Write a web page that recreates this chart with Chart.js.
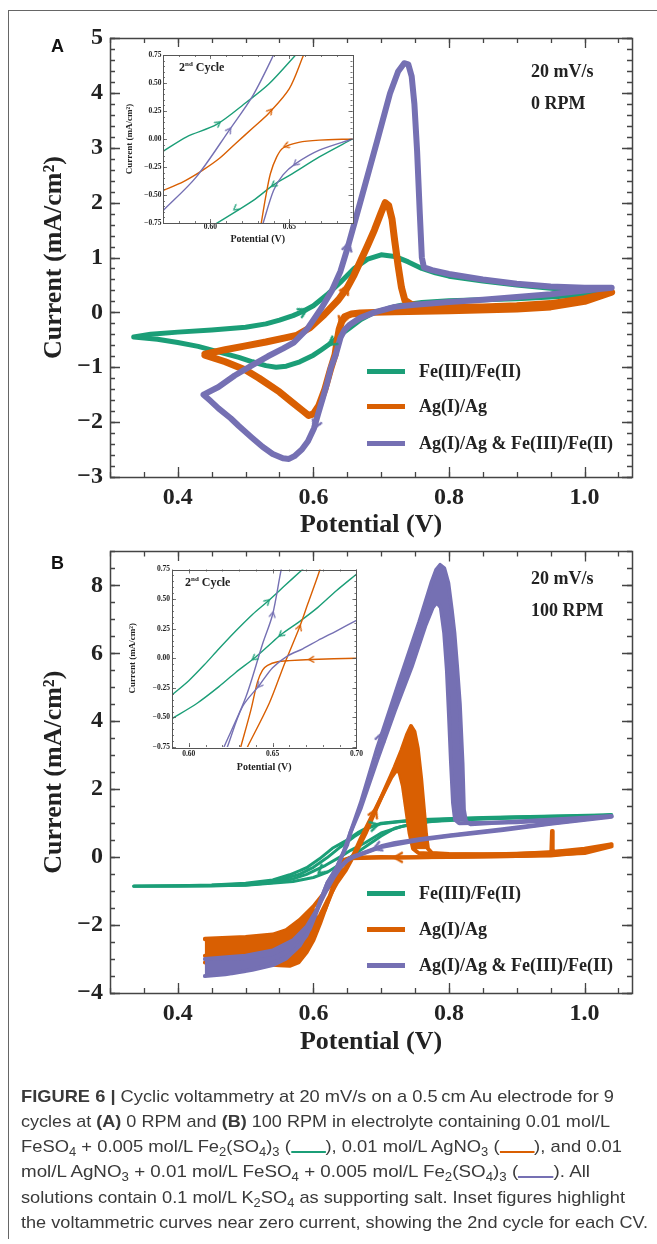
<!DOCTYPE html>
<html><head><meta charset="utf-8">
<script src="https://cdn.jsdelivr.net/npm/chart.js@4.4.0/dist/chart.umd.min.js"></script>
<style>
html,body{margin:0;padding:0;background:#fff;}
body{width:657px;height:1244px;position:relative;overflow:hidden;font-family:"Liberation Serif",serif;color:#222;}
canvas{position:absolute;display:block;}
.frame{position:absolute;left:8px;top:10px;width:660px;height:1228px;border-top:1.5px solid #666;border-left:1.5px solid #666;}
.t{position:absolute;white-space:nowrap;font-family:"Liberation Serif",serif;font-weight:bold;color:#222;}
.panel{position:absolute;font-family:"Liberation Sans",Arial,sans-serif;font-weight:bold;font-size:18px;line-height:20px;color:#111;}
.leg{position:absolute;height:22px;line-height:22px;font-family:"Liberation Serif",serif;font-weight:bold;font-size:18px;color:#222;white-space:nowrap;}
.leg i{position:absolute;left:0;top:9px;width:38px;height:5px;}
.leg span{position:absolute;left:52px;top:0;}
.cyc{position:absolute;font-family:"Liberation Serif",serif;font-weight:bold;font-size:12px;color:#222;white-space:nowrap;}
.cyc sup{font-size:7px;vertical-align:5px;}
.cap{position:absolute;left:21px;font-family:"Liberation Sans",Arial,sans-serif;font-size:17px;color:#3a3a3a;white-space:nowrap;transform-origin:0 0;line-height:24px;height:24px;}
.cap sub{font-size:12px;vertical-align:-4px;line-height:0;}
.cap .sw{display:inline-block;width:32px;height:2.5px;vertical-align:-1px;}
</style>
</head><body>
<div class="frame"></div>
<canvas id="cA" width="657" height="560" style="left:0;top:0"></canvas>
<canvas id="cB" width="657" height="545" style="left:0;top:530px"></canvas>
<canvas id="iA" width="238" height="200" style="left:120px;top:47px"></canvas>
<canvas id="iB" width="246" height="215" style="left:120px;top:561px"></canvas>

<div class="panel" style="left:51px;top:36px">A</div>
<div class="panel" style="left:51px;top:553px">B</div>

<div class="t" style="left:531px;top:61px;font-size:18px">20 mV/s</div>
<div class="t" style="left:531px;top:93px;font-size:18px">0 RPM</div>
<div class="t" style="left:531px;top:568px;font-size:18px">20 mV/s</div>
<div class="t" style="left:531px;top:600px;font-size:18px">100 RPM</div>

<div class="cyc" style="left:179px;top:60px">2<sup>nd</sup> Cycle</div>
<div class="cyc" style="left:185px;top:575px">2<sup>nd</sup> Cycle</div>

<div class="leg" style="left:367px;top:360px"><i style="background:#1b9e77"></i><span>Fe(III)/Fe(II)</span></div>
<div class="leg" style="left:367px;top:395px"><i style="background:#d95f02"></i><span>Ag(I)/Ag</span></div>
<div class="leg" style="left:367px;top:432px"><i style="background:#7570b3"></i><span>Ag(I)/Ag &amp; Fe(III)/Fe(II)</span></div>
<div class="leg" style="left:367px;top:882px"><i style="background:#1b9e77"></i><span>Fe(III)/Fe(II)</span></div>
<div class="leg" style="left:367px;top:918px"><i style="background:#d95f02"></i><span>Ag(I)/Ag</span></div>
<div class="leg" style="left:367px;top:954px"><i style="background:#7570b3"></i><span>Ag(I)/Ag &amp; Fe(III)/Fe(II)</span></div>

<div class="cap" style="top:1085px"><b>FIGURE 6 |</b> Cyclic voltammetry at 20 mV/s on a 0.5&#8201;cm Au electrode for 9</div>
<div class="cap" style="top:1110px">cycles at <b>(A)</b> 0 RPM and <b>(B)</b> 100 RPM in electrolyte containing 0.01 mol/L</div>
<div class="cap" style="top:1135px">FeSO<sub>4</sub> + 0.005 mol/L Fe<sub>2</sub>(SO<sub>4</sub>)<sub>3</sub> (<span class="sw" style="background:#1b9e77"></span>), 0.01 mol/L AgNO<sub>3</sub> (<span class="sw" style="background:#d95f02"></span>), and 0.01</div>
<div class="cap" style="top:1160px">mol/L AgNO<sub>3</sub> + 0.01 mol/L FeSO<sub>4</sub> + 0.005 mol/L Fe<sub>2</sub>(SO<sub>4</sub>)<sub>3</sub> (<span class="sw" style="background:#7570b3"></span>). All</div>
<div class="cap" style="top:1186px">solutions contain 0.1 mol/L K<sub>2</sub>SO<sub>4</sub> as supporting salt. Inset figures highlight</div>
<div class="cap" style="top:1211px">the voltammetric curves near zero current, showing the 2nd cycle for each CV.</div>

<script>
// ---------------- colours ----------------
const C_FE = '#1b9e77', C_AG = '#d95f02', C_MIX = '#7570b3';

// ---------------- tick labels ----------------
const xTicksMain = [0.4, 0.6, 0.8, 1.0];
const yTicksA = [-3, -2, -1, 0, 1, 2, 3, 4, 5];
const yTicksB = [-4, -2, 0, 2, 4, 6, 8];
const yTicksInset = [-0.75, -0.5, -0.25, 0, 0.25, 0.5, 0.75];
const xTicksInsetA = [0.60, 0.65];
const xTicksInsetB = [0.60, 0.65, 0.70];

// ---------------- Panel A (0 RPM) : [potential V, current mA/cm2] ----------------
const aFeFwd = [[0.335,-0.45],[0.36,-0.40],[0.40,-0.36],[0.45,-0.32],[0.50,-0.27],[0.53,-0.21],[0.55,-0.14],[0.57,-0.06],[0.585,0.02],[0.60,0.12],[0.62,0.32],[0.64,0.55],[0.66,0.8],[0.68,0.97],[0.70,1.05],[0.72,1.02],[0.74,0.92],[0.76,0.8],[0.78,0.72],[0.80,0.66],[0.85,0.57],[0.90,0.5],[0.95,0.44],[1.00,0.4],[1.035,0.38]];
const aFeRev = [[1.035,0.38],[1.0,0.32],[0.95,0.28],[0.9,0.25],[0.85,0.23],[0.8,0.21],[0.76,0.18],[0.73,0.13],[0.71,0.07],[0.69,0.0],[0.67,-0.13],[0.655,-0.27],[0.64,-0.41],[0.627,-0.55],[0.612,-0.68],[0.6,-0.78],[0.58,-0.9],[0.56,-0.98],[0.545,-1.0],[0.53,-0.97],[0.51,-0.9],[0.49,-0.82],[0.46,-0.72],[0.43,-0.62],[0.4,-0.55],[0.37,-0.49],[0.335,-0.45]];
const aAgFwd = [[0.44,-0.76],[0.47,-0.68],[0.50,-0.61],[0.53,-0.54],[0.56,-0.46],[0.575,-0.42],[0.595,-0.28],[0.616,-0.04],[0.637,0.23],[0.65,0.45],[0.66,0.68],[0.67,0.95],[0.68,1.22],[0.69,1.5],[0.70,1.82],[0.706,2.0],[0.711,1.95],[0.716,1.7],[0.72,1.3],[0.725,0.85],[0.73,0.45],[0.735,0.22],[0.745,0.14],[0.78,0.1],[0.85,0.1],[0.9,0.12],[0.95,0.16],[1.0,0.25],[1.04,0.37]];
const aAgRev = [[1.04,0.37],[1.0,0.2],[0.95,0.1],[0.9,0.06],[0.8,0.03],[0.72,0.01],[0.69,0.0],[0.669,-0.01],[0.656,-0.03],[0.646,-0.08],[0.642,-0.16],[0.638,-0.31],[0.635,-0.52],[0.632,-0.77],[0.625,-1.05],[0.617,-1.4],[0.608,-1.7],[0.6,-1.85],[0.593,-1.88],[0.585,-1.8],[0.57,-1.65],[0.55,-1.45],[0.52,-1.2],[0.5,-1.05],[0.47,-0.9],[0.44,-0.78]];
const aMixFwd = [[0.438,-1.5],[0.46,-1.36],[0.484,-1.15],[0.51,-0.96],[0.533,-0.8],[0.555,-0.66],[0.571,-0.55],[0.591,-0.3],[0.612,0.08],[0.627,0.39],[0.64,0.75],[0.651,1.2],[0.669,2.0],[0.694,3.12],[0.713,3.99],[0.725,4.39],[0.734,4.54],[0.74,4.52],[0.745,4.3],[0.749,3.8],[0.753,2.94],[0.757,1.8],[0.76,1.0],[0.763,0.82],[0.775,0.77],[0.8,0.7],[0.85,0.6],[0.9,0.52],[0.95,0.47],[1.0,0.45],[1.04,0.45]];
const aMixRev = [[1.04,0.45],[1.0,0.4],[0.95,0.33],[0.9,0.28],[0.85,0.23],[0.8,0.19],[0.75,0.14],[0.72,0.1],[0.69,0.0],[0.669,-0.1],[0.654,-0.22],[0.646,-0.32],[0.64,-0.46],[0.633,-0.77],[0.626,-1.0],[0.62,-1.3],[0.614,-1.56],[0.607,-1.85],[0.601,-2.11],[0.592,-2.35],[0.583,-2.5],[0.572,-2.62],[0.564,-2.67],[0.555,-2.66],[0.54,-2.58],[0.525,-2.45],[0.509,-2.28],[0.49,-2.07],[0.478,-1.93],[0.46,-1.75],[0.447,-1.6],[0.438,-1.5]];
// arrows A: [x, y, x ahead, y ahead]
const aFeArrows = [[0.585,0.02,0.60,0.12],[0.627,-0.55,0.612,-0.68]];
const aAgArrows = [[0.648,0.42,0.66,0.68],[0.642,-0.16,0.638,-0.31]];
const aMixArrows = [[0.651,1.2,0.669,2.0],[0.603,-2.05,0.592,-2.35]];

// ---------------- Inset A (2nd cycle) ----------------
const iaFe = [[0.570,-0.11],[0.585,0.02],[0.604,0.13],[0.623,0.33],[0.637,0.49],[0.654,0.75],[0.66,0.85]];
const iaFeRev = [[0.69,0.0],[0.669,-0.16],[0.652,-0.31],[0.64,-0.41],[0.627,-0.55],[0.602,-0.77]];
const iaAg = [[0.570,-0.46],[0.583,-0.38],[0.595,-0.28],[0.606,-0.17],[0.616,-0.04],[0.627,0.1],[0.637,0.23],[0.65,0.45],[0.659,0.75],[0.662,0.85]];
const iaAgRev = [[0.69,0.0],[0.669,-0.01],[0.656,-0.03],[0.646,-0.08],[0.642,-0.16],[0.638,-0.31],[0.635,-0.52],[0.632,-0.77]];
const iaMix = [[0.570,-0.64],[0.591,-0.34],[0.612,0.08],[0.627,0.39],[0.64,0.75],[0.643,0.85]];
const iaMixRev = [[0.69,0.0],[0.669,-0.1],[0.654,-0.22],[0.646,-0.32],[0.64,-0.46],[0.633,-0.77]];
const iaArrows = {fe:[[0.605,0.14,0.623,0.33],[0.64,-0.41,0.627,-0.55],[0.616,-0.62,0.602,-0.77]], ag:[[0.638,0.25,0.65,0.45],[0.648,-0.06,0.64,-0.1]], mix:[[0.612,0.08,0.627,0.39],[0.654,-0.22,0.646,-0.32]]};

// ---------------- Panel B (100 RPM) ----------------
const bFeFwd1 = [[0.335,-0.85],[0.4,-0.84],[0.45,-0.82],[0.5,-0.77],[0.54,-0.67],[0.565,-0.52],[0.58,-0.4],[0.59,-0.31],[0.609,-0.05],[0.628,0.26],[0.647,0.47],[0.667,0.74],[0.68,0.88],[0.7,0.98],[0.73,1.05],[0.8,1.12],[0.9,1.18],[1.0,1.22],[1.04,1.24]];
const bFeRev1 = [[1.04,1.24],[0.95,1.18],[0.85,1.12],[0.77,1.05],[0.73,0.9],[0.7,0.71],[0.677,0.43],[0.655,0.2],[0.639,0.0],[0.618,-0.24],[0.59,-0.51],[0.57,-0.64],[0.55,-0.73],[0.5,-0.82],[0.45,-0.85],[0.4,-0.86],[0.335,-0.86]];
const bFeFwd9 = [[0.335,-0.86],[0.45,-0.83],[0.5,-0.79],[0.55,-0.68],[0.58,-0.5],[0.6,-0.3],[0.62,-0.02],[0.64,0.3],[0.66,0.6],[0.68,0.85],[0.7,1.0],[0.75,1.1],[0.85,1.17],[1.04,1.25]];
const bFeRev9 = [[1.04,1.25],[0.9,1.17],[0.8,1.1],[0.75,1.0],[0.72,0.85],[0.7,0.62],[0.68,0.35],[0.66,0.08],[0.64,-0.2],[0.62,-0.45],[0.6,-0.6],[0.57,-0.72],[0.5,-0.83],[0.335,-0.86]];
const bAgFwd9 = [[0.44,-2.9],[0.48,-2.88],[0.52,-2.83],[0.55,-2.72],[0.57,-2.55],[0.585,-2.35],[0.6,-2.05],[0.61,-1.7],[0.62,-1.3],[0.628,-1.0],[0.635,-0.75],[0.648,-0.38],[0.657,-0.05],[0.666,0.26],[0.671,0.46],[0.678,0.74],[0.69,1.3],[0.70,1.75],[0.71,2.2],[0.72,2.65],[0.73,3.15],[0.738,3.6],[0.744,3.86],[0.749,3.7],[0.754,3.2],[0.759,2.3],[0.763,1.4],[0.766,0.7],[0.769,0.25],[0.775,0.12],[0.8,0.09],[0.85,0.08],[0.9,0.1],[0.948,0.13],[0.951,0.14],[0.952,0.77],[0.953,0.15],[1.0,0.25],[1.04,0.38]];
const bAgRev9 = [[1.04,0.38],[1.0,0.14],[0.95,0.05],[0.9,0.03],[0.8,0.01],[0.73,-0.01],[0.7,0.0],[0.673,-0.01],[0.653,-0.03],[0.644,-0.09],[0.64,-0.22],[0.637,-0.44],[0.631,-0.75],[0.625,-1.1],[0.618,-1.5],[0.61,-1.95],[0.6,-2.45],[0.59,-2.8],[0.578,-3.1],[0.565,-3.2],[0.55,-3.18],[0.52,-3.14],[0.48,-3.12],[0.44,-3.1]];
const bAgFwd1 = [[0.44,-2.4],[0.5,-2.35],[0.54,-2.28],[0.56,-2.15],[0.58,-1.85],[0.6,-1.45],[0.62,-0.95],[0.635,-0.6],[0.648,-0.3],[0.657,-0.02],[0.67,0.55],[0.69,1.35],[0.705,1.95],[0.715,2.35],[0.722,2.55],[0.727,2.5],[0.732,2.1],[0.737,1.4],[0.742,0.7],[0.747,0.25],[0.755,0.12],[0.8,0.08],[0.9,0.09],[1.0,0.2],[1.04,0.32]];
const bAgRev1 = [[1.04,0.32],[1.0,0.12],[0.9,0.03],[0.8,0.0],[0.7,-0.01],[0.655,-0.03],[0.645,-0.1],[0.64,-0.3],[0.634,-0.7],[0.626,-1.1],[0.617,-1.55],[0.607,-1.9],[0.595,-2.2],[0.58,-2.38],[0.56,-2.45],[0.52,-2.46],[0.48,-2.45],[0.44,-2.42]];
const bAgPeakBand = [[0.71,2.2],[0.72,2.65],[0.73,3.15],[0.738,3.6],[0.744,3.86],[0.749,3.7],[0.754,3.2],[0.759,2.3],[0.763,1.4],[0.766,0.7],[0.769,0.25],[0.747,0.25],[0.742,0.7],[0.737,1.4],[0.732,2.1],[0.727,2.5],[0.722,2.55],[0.715,2.35]];
const bAgCathBand = [[0.44,-2.4],[0.5,-2.35],[0.54,-2.28],[0.56,-2.15],[0.58,-1.85],[0.6,-1.45],[0.61,-1.95],[0.6,-2.45],[0.59,-2.8],[0.578,-3.1],[0.565,-3.2],[0.55,-3.18],[0.52,-3.14],[0.48,-3.12],[0.44,-3.1]];
const bMixFwd9 = [[0.44,-3.5],[0.47,-3.45],[0.5,-3.35],[0.53,-3.2],[0.56,-2.95],[0.58,-2.6],[0.595,-2.1],[0.605,-1.6],[0.613,-1.15],[0.621,-0.75],[0.634,-0.33],[0.644,0.12],[0.65,0.37],[0.655,0.74],[0.67,1.6],[0.694,3.2],[0.725,5.07],[0.756,6.91],[0.774,8.07],[0.781,8.45],[0.787,8.6],[0.793,8.5],[0.799,8.07],[0.804,7.3],[0.808,6.6],[0.812,5.6],[0.816,4.5],[0.82,2.75],[0.822,1.4],[0.825,1.05],[0.832,0.97],[0.9,1.05],[1.0,1.16],[1.04,1.21]];
const bMixRev9 = [[1.04,1.21],[0.95,1.0],[0.879,0.82],[0.8,0.64],[0.756,0.53],[0.72,0.42],[0.7,0.32],[0.677,0.15],[0.659,0.02],[0.65,-0.08],[0.642,-0.23],[0.632,-0.41],[0.623,-0.75],[0.615,-1.1],[0.607,-1.5],[0.6,-1.85],[0.59,-2.3],[0.575,-2.7],[0.56,-2.98],[0.54,-3.18],[0.51,-3.32],[0.48,-3.42],[0.44,-3.5]];
const bMixFwd1 = [[0.44,-3.0],[0.5,-2.9],[0.54,-2.75],[0.57,-2.45],[0.59,-2.05],[0.605,-1.55],[0.621,-0.75],[0.634,-0.33],[0.644,0.12],[0.655,0.74],[0.67,1.45],[0.694,2.85],[0.72,4.3],[0.745,5.6],[0.765,6.8],[0.776,7.35],[0.782,7.5],[0.788,7.35],[0.793,6.6],[0.797,5.5],[0.8,4.2],[0.803,2.8],[0.806,1.6],[0.809,1.1],[0.815,1.0],[0.9,1.03],[1.0,1.14],[1.04,1.19]];
const bMixRev1 = [[1.04,1.19],[0.95,0.98],[0.88,0.8],[0.8,0.62],[0.756,0.5],[0.7,0.3],[0.677,0.13],[0.659,0.0],[0.65,-0.1],[0.64,-0.3],[0.63,-0.6],[0.62,-0.95],[0.61,-1.35],[0.6,-1.75],[0.585,-2.2],[0.565,-2.6],[0.54,-2.85],[0.5,-2.97],[0.44,-3.0]];
const bMixPeakBand = [[0.694,3.2],[0.725,5.07],[0.756,6.91],[0.774,8.07],[0.781,8.45],[0.787,8.6],[0.793,8.5],[0.799,8.07],[0.804,7.3],[0.808,6.6],[0.812,5.6],[0.816,4.5],[0.82,2.75],[0.822,1.4],[0.825,1.05],[0.809,1.1],[0.806,1.6],[0.803,2.8],[0.8,4.2],[0.797,5.5],[0.793,6.6],[0.788,7.35],[0.782,7.5],[0.776,7.35],[0.765,6.8],[0.745,5.6],[0.72,4.3],[0.694,2.85]];
const bMixCathBand = [[0.44,-3.0],[0.5,-2.9],[0.54,-2.75],[0.57,-2.45],[0.59,-2.05],[0.605,-1.55],[0.6,-1.85],[0.59,-2.3],[0.575,-2.7],[0.56,-2.98],[0.54,-3.18],[0.51,-3.32],[0.48,-3.42],[0.44,-3.5]];
const bFeArrows = [[0.69,0.93,0.7,0.98],[0.612,-0.4,0.6,-0.6]];
const bAgArrows = [[0.69,1.3,0.70,1.75],[0.725,-0.01,0.70,-0.01]];
const bMixArrows = [[0.70,3.55,0.725,5.07],[0.694,0.28,0.677,0.15]];

// ---------------- Inset B (2nd cycle) ----------------
const ibFe = [[0.59,-0.31],[0.6,-0.19],[0.609,-0.06],[0.618,0.08],[0.628,0.23],[0.638,0.37],[0.647,0.48],[0.657,0.61],[0.667,0.74],[0.67,0.78]];
const ibFeRev = [[0.70,0.71],[0.688,0.57],[0.677,0.43],[0.666,0.31],[0.655,0.2],[0.647,0.1],[0.639,0.0],[0.628,-0.12],[0.618,-0.24],[0.605,-0.38],[0.59,-0.51]];
const ibMix = [[0.621,-0.75],[0.634,-0.33],[0.644,0.12],[0.65,0.37],[0.655,0.74],[0.657,0.85]];
const ibMixRev = [[0.70,0.32],[0.688,0.23],[0.677,0.15],[0.668,0.08],[0.659,0.02],[0.65,-0.08],[0.642,-0.23],[0.632,-0.41],[0.623,-0.75]];
const ibAg = [[0.635,-0.75],[0.648,-0.38],[0.657,-0.05],[0.666,0.26],[0.671,0.46],[0.678,0.74],[0.68,0.85]];
const ibAgRev = [[0.70,0.0],[0.673,-0.01],[0.66,-0.02],[0.653,-0.03],[0.647,-0.06],[0.644,-0.1],[0.641,-0.2],[0.637,-0.44],[0.631,-0.75]];
const ibArrows = {fe:[[0.647,0.48,0.657,0.61],[0.655,0.2,0.647,0.1],[0.639,0.0,0.628,-0.12]], ag:[[0.666,0.26,0.671,0.46],[0.673,-0.01,0.66,-0.02]], mix:[[0.65,0.37,0.655,0.74],[0.642,-0.23,0.632,-0.41]]};

// ---------------- helpers ----------------
const P = a => a.map(([x, y]) => ({x, y}));
const loop = (f, r) => P(f.concat(r));
const ARW = a => a.map(([x, y, tx, ty]) => ({x, y, tx, ty}));

function chevron(size, color, lw) {
  const c = document.createElement('canvas');
  c.width = size; c.height = size;
  const g = c.getContext('2d');
  g.strokeStyle = color; g.lineWidth = lw; g.lineCap = 'round'; g.lineJoin = 'round';
  g.beginPath();
  g.moveTo(size * 0.22, size * 0.18);
  g.lineTo(size * 0.78, size * 0.5);
  g.lineTo(size * 0.22, size * 0.82);
  g.stroke();
  return c;
}
function arrowRot(ctx) {
  const d = ctx.raw; const ch = ctx.chart;
  if (!d || !ch.scales.x) return 0;
  const xs = ch.scales.x, ys = ch.scales.y;
  const dx = xs.getPixelForValue(d.tx) - xs.getPixelForValue(d.x);
  const dy = ys.getPixelForValue(d.ty) - ys.getPixelForValue(d.y);
  return Math.atan2(dy, dx) * 180 / Math.PI;
}
function lineDS(data, color, w, order, tension) {
  return {data, showLine: true, borderColor: color, backgroundColor: color, borderWidth: w,
    pointRadius: 0, tension: tension || 0, fill: false, order, borderJoinStyle: 'round', borderCapStyle: 'round'};
}
function bandDS(data, color, order) {
  return {data: P(data), showLine: true, borderColor: color, backgroundColor: color, borderWidth: 1,
    pointRadius: 0, tension: 0, fill: 'shape', order};
}
function arrowDS(data, color, size, lw) {
  return {data: ARW(data), showLine: false, pointStyle: chevron(size, color, lw), pointRadius: size / 2,
    rotation: arrowRot, order: -1, borderColor: color, backgroundColor: color};
}

const frameTicks = {
  id: 'frameTicks',
  beforeDraw(chart, args, o) {
    if (o.bg) {
      const c = chart.ctx, a = chart.chartArea;
      c.save(); c.fillStyle = '#fff';
      c.fillRect(0, 0, a.right + 1, a.bottom + 1);
      c.fillRect(0, a.bottom, a.right - 50, chart.height - a.bottom);
      c.restore();
    }
  },
  afterDraw(chart, args, o) {
    const {ctx, chartArea: a, scales: {x, y}} = chart;
    ctx.save();
    ctx.strokeStyle = o.color; ctx.lineWidth = o.tickWidth;
    const vx = (step, len) => {
      for (let i = Math.ceil(x.min / step - 1e-6); i * step <= x.max + 1e-9; i++) {
        const p = Math.round(x.getPixelForValue(i * step)) + 0.5;
        ctx.beginPath(); ctx.moveTo(p, a.bottom); ctx.lineTo(p, a.bottom - len);
        ctx.moveTo(p, a.top); ctx.lineTo(p, a.top + len); ctx.stroke();
      }
    };
    const vy = (step, len) => {
      for (let i = Math.ceil(y.min / step - 1e-6); i * step <= y.max + 1e-9; i++) {
        const p = Math.round(y.getPixelForValue(i * step)) + 0.5;
        ctx.beginPath(); ctx.moveTo(a.left, p); ctx.lineTo(a.left + len, p);
        ctx.moveTo(a.right, p); ctx.lineTo(a.right - len, p); ctx.stroke();
      }
    };
    vx(o.xMinor, o.minorLen); vx(o.xMajor, o.majorLen);
    vy(o.yMinor, o.minorLen); vy(o.yMajor, o.majorLen);
    ctx.lineWidth = o.width;
    ctx.strokeRect(Math.round(a.left) + 0.5, Math.round(a.top) + 0.5, Math.round(a.right - a.left), Math.round(a.bottom - a.top));
    ctx.restore();
  }
};

const minus = s => String(s).replace('-', '\u2212');

function makeChart(id, cfg) {
  const serif = 'Liberation Serif';
  return new Chart(document.getElementById(id), {
    type: 'scatter',
    data: {datasets: cfg.datasets},
    plugins: [frameTicks],
    options: {
      responsive: false, animation: false, events: [],
      layout: {padding: cfg.pad},
      plugins: {legend: {display: false}, tooltip: {enabled: false}, frameTicks: cfg.ft},
      scales: {
        x: {type: 'linear', min: cfg.xmin, max: cfg.xmax,
          afterBuildTicks: s => { s.ticks = cfg.xticks.map(v => ({value: v})); },
          afterFit: s => { s.height = cfg.xh; },
          grid: {display: false, drawTicks: false}, border: {display: false},
          ticks: {autoSkip: false, maxRotation: 0, padding: cfg.xtp, color: '#222',
            font: {family: serif, weight: 'bold', size: cfg.tickSize},
            callback: v => cfg.xfmt(v)},
          title: {display: true, text: 'Potential (V)', color: '#222',
            font: {family: serif, weight: 'bold', size: cfg.titleSize}, padding: {top: 0, bottom: cfg.xtitlePad}}},
        y: {type: 'linear', min: cfg.ymin, max: cfg.ymax,
          afterBuildTicks: s => { s.ticks = cfg.yticks.map(v => ({value: v})); },
          afterFit: s => { s.width = cfg.yw; },
          grid: {display: false, drawTicks: false}, border: {display: false},
          ticks: {autoSkip: false, padding: cfg.ytp, color: '#222',
            font: {family: serif, weight: 'bold', size: cfg.tickSize},
            callback: v => cfg.yfmt(v)},
          title: {display: true, text: 'Current (mA/cm\u00B2)', color: '#222',
            font: {family: serif, weight: 'bold', size: cfg.ytitleSize || cfg.titleSize}, padding: {top: cfg.ytitlePad, bottom: 0}}}
      }
    }
  });
}

const mainFT = {color: '#444', width: 1.5, tickWidth: 1.3, xMajor: 0.2, xMinor: 0.05, majorLen: 10, minorLen: 5};
const insetFT = {color: '#555', width: 1, tickWidth: 0.8, xMajor: 0.05, xMinor: 0.01, yMajor: 0.25, yMinor: 0.05, majorLen: 4, minorLen: 2, bg: true};

// ---- Panel A ----
makeChart('cA', {
  pad: {left: 0, right: 25, top: 38, bottom: 0}, xh: 83, yw: 110,
  xmin: 0.3, xmax: 1.07, ymin: -3, ymax: 5, xticks: xTicksMain, yticks: yTicksA,
  xfmt: v => v.toFixed(1), yfmt: v => minus(v), tickSize: 24, titleSize: 26,
  xtp: 6, ytp: 7, xtitlePad: 19, ytitlePad: 39,
  ft: Object.assign({}, mainFT, {yMajor: 1, yMinor: 0.2}),
  datasets: [
    lineDS(loop(aFeFwd, aFeRev), C_FE, 5, 3),
    lineDS(loop(aAgFwd, aAgRev), C_AG, 7, 2),
    lineDS(loop(aMixFwd, aMixRev), C_MIX, 6, 1),
    arrowDS(aFeArrows, C_FE, 14, 2.5), arrowDS(aAgArrows, C_AG, 14, 2.5), arrowDS(aMixArrows, C_MIX, 14, 2.5)
  ]
});

// ---- Panel B ----
makeChart('cB', {
  pad: {left: 0, right: 25, top: 18.5, bottom: 0}, xh: 82, yw: 110,
  xmin: 0.3, xmax: 1.07, ymin: -4, ymax: 9, xticks: xTicksMain, yticks: yTicksB,
  xfmt: v => v.toFixed(1), yfmt: v => minus(v), tickSize: 24, titleSize: 26,
  xtp: 6, ytp: 7, xtitlePad: 17, ytitlePad: 39,
  ft: Object.assign({}, mainFT, {yMajor: 2, yMinor: 0.5}),
  datasets: [
    lineDS(loop(bFeFwd1, bFeRev1), C_FE, 3, 4),
    lineDS(loop(bFeFwd9, bFeRev9), C_FE, 3, 4),
    bandDS(bAgPeakBand, C_AG, 3), bandDS(bAgCathBand, C_AG, 3),
    lineDS(loop(bAgFwd1, bAgRev1), C_AG, 4, 3),
    lineDS(loop(bAgFwd9, bAgRev9), C_AG, 4, 3),
    bandDS(bMixPeakBand, C_MIX, 2), bandDS(bMixCathBand, C_MIX, 2),
    lineDS(loop(bMixFwd1, bMixRev1), C_MIX, 4, 1),
    lineDS(loop(bMixFwd9, bMixRev9), C_MIX, 4, 1),
    arrowDS(bFeArrows, C_FE, 14, 2.5), arrowDS(bAgArrows, C_AG, 14, 2.5), arrowDS(bMixArrows, C_MIX, 14, 2.5)
  ]
});

// ---- Inset A ----
makeChart('iA', {
  pad: {left: 0, right: 5, top: 8, bottom: 0}, xh: 24, yw: 43,
  xmin: 0.57, xmax: 0.69, ymin: -0.75, ymax: 0.75, xticks: xTicksInsetA, yticks: yTicksInset,
  xfmt: v => v.toFixed(2), yfmt: v => minus(v.toFixed(2)), tickSize: 7.5, titleSize: 10, ytitleSize: 9,
  xtp: 0, ytp: 1.5, xtitlePad: 2, ytitlePad: 4,
  ft: insetFT,
  datasets: [
    lineDS(P(iaFe), C_FE, 1.4, 3, 0.3), lineDS(P(iaFeRev), C_FE, 1.4, 3, 0.3),
    lineDS(P(iaAg), C_AG, 1.4, 2, 0.3), lineDS(P(iaAgRev), C_AG, 1.4, 2, 0.3),
    lineDS(P(iaMix), C_MIX, 1.4, 1, 0.3), lineDS(P(iaMixRev), C_MIX, 1.4, 1, 0.3),
    arrowDS(iaArrows.fe, C_FE, 9, 1.3), arrowDS(iaArrows.ag, C_AG, 9, 1.3), arrowDS(iaArrows.mix, C_MIX, 9, 1.3)
  ]
});

// ---- Inset B ----
makeChart('iB', {
  pad: {left: 0, right: 5, top: 8.5, bottom: 0}, xh: 29, yw: 52,
  xmin: 0.59, xmax: 0.70, ymin: -0.75, ymax: 0.75, xticks: xTicksInsetB, yticks: yTicksInset,
  xfmt: v => v.toFixed(2), yfmt: v => minus(v.toFixed(2)), tickSize: 7.5, titleSize: 10, ytitleSize: 9,
  xtp: 3, ytp: 2, xtitlePad: 3, ytitlePad: 7,
  ft: insetFT,
  datasets: [
    lineDS(P(ibFe), C_FE, 1.4, 3, 0.3), lineDS(P(ibFeRev), C_FE, 1.4, 3, 0.3),
    lineDS(P(ibAg), C_AG, 1.4, 2, 0.3), lineDS(P(ibAgRev), C_AG, 1.4, 2, 0.3),
    lineDS(P(ibMix), C_MIX, 1.4, 1, 0.3), lineDS(P(ibMixRev), C_MIX, 1.4, 1, 0.3),
    arrowDS(ibArrows.fe, C_FE, 9, 1.3), arrowDS(ibArrows.ag, C_AG, 9, 1.3), arrowDS(ibArrows.mix, C_MIX, 9, 1.3)
  ]
});

// fit caption lines to the reference line widths (right edges measured on the reference)
const capRight = [614, 610, 622, 590, 625, 648];
document.querySelectorAll('.cap').forEach((el, i) => {
  const w = el.getBoundingClientRect().width;
  if (w > 0) el.style.transform = 'scaleX(' + ((capRight[i] - 21) / w).toFixed(4) + ')';
});
</script>
</body></html>
